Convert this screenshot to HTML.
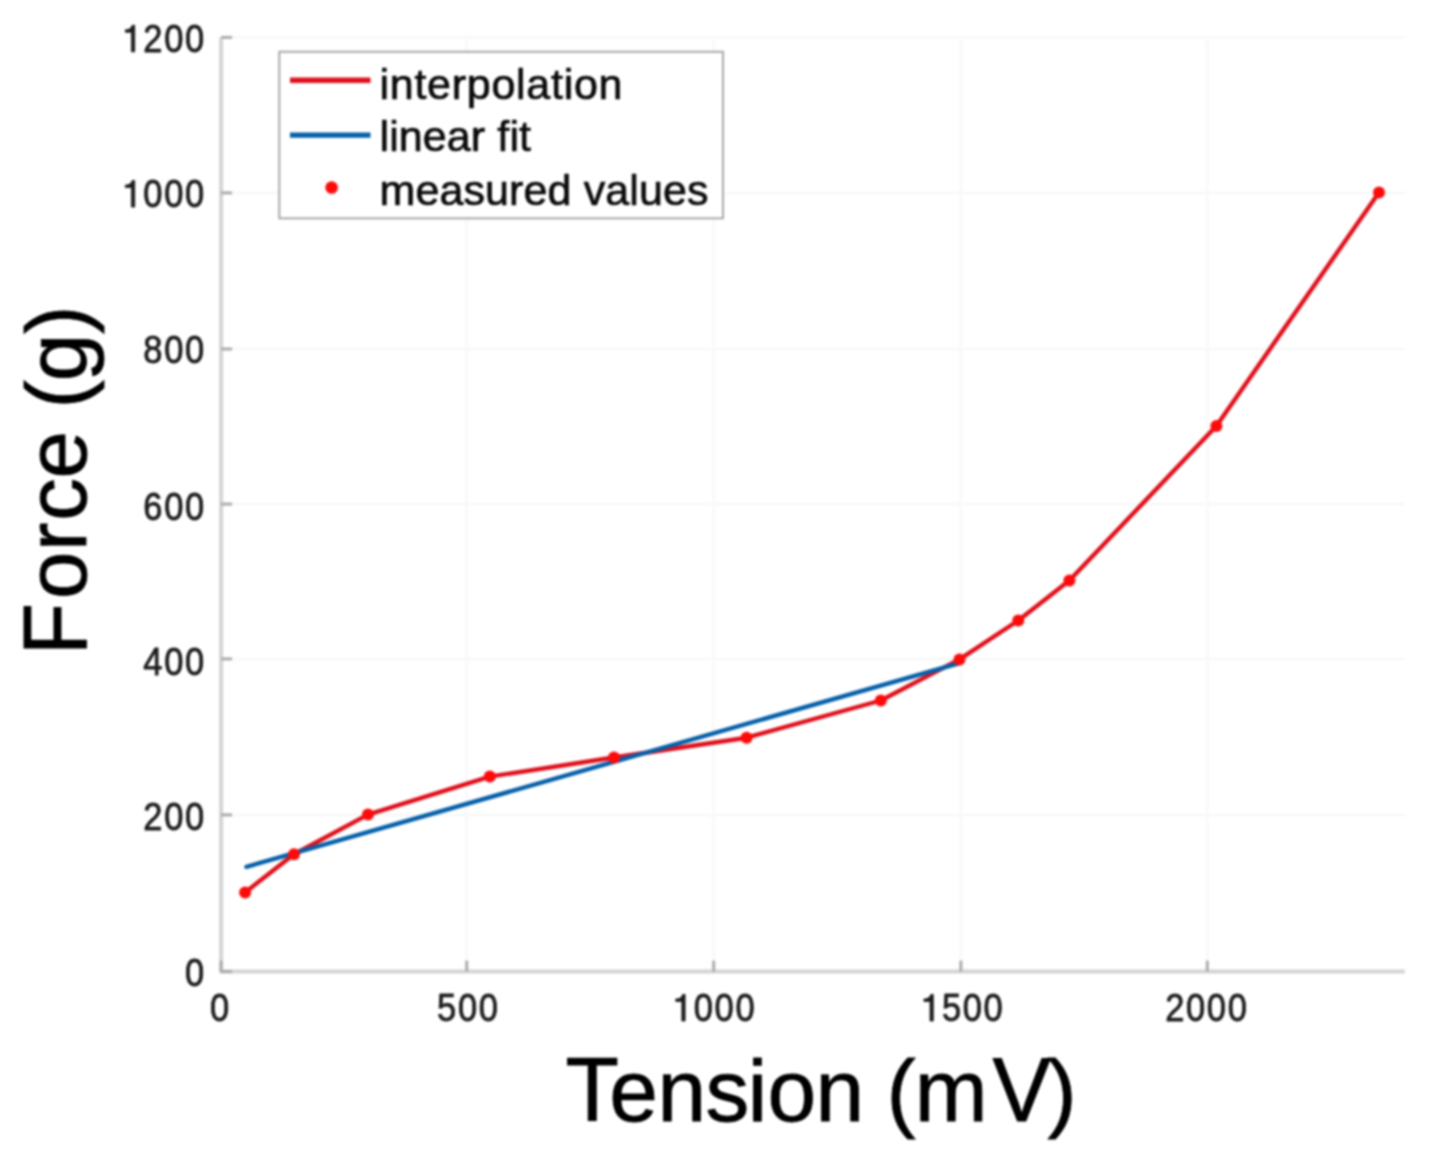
<!DOCTYPE html>
<html><head><meta charset="utf-8"><style>
html,body{margin:0;padding:0;background:#fff;}
body{width:1430px;height:1157px;overflow:hidden;}
svg{display:block;filter:blur(1.2px);}
text{font-family:"Liberation Sans",sans-serif;}
</style></head><body>
<svg width="1430" height="1157" viewBox="0 0 1430 1157">
<rect width="1430" height="1157" fill="#fff"/>
<g>
<g stroke="#f9f9f9" stroke-width="3">
<line x1="466.7" y1="37.4" x2="466.7" y2="971.6"/>
<line x1="713.7" y1="37.4" x2="713.7" y2="971.6"/>
<line x1="960.9" y1="37.4" x2="960.9" y2="971.6"/>
<line x1="1207.3" y1="37.4" x2="1207.3" y2="971.6"/>
<line x1="221.1" y1="814.9" x2="1404.8" y2="814.9"/>
<line x1="221.1" y1="658.9" x2="1404.8" y2="658.9"/>
<line x1="221.1" y1="504.1" x2="1404.8" y2="504.1"/>
<line x1="221.1" y1="349.0" x2="1404.8" y2="349.0"/>
<line x1="221.1" y1="192.9" x2="1404.8" y2="192.9"/>
<line x1="221.1" y1="37.4" x2="1404.8" y2="37.4"/>
</g>
<line x1="221.1" y1="37.4" x2="221.1" y2="973.1" stroke="#d4d4d4" stroke-width="4"/>
<line x1="219.6" y1="971.6" x2="1404.8" y2="971.6" stroke="#d4d4d4" stroke-width="4"/>
<g stroke="#acacac" stroke-width="3">
<line x1="221.1" y1="971.6" x2="221.1" y2="960.6"/>
<line x1="466.7" y1="971.6" x2="466.7" y2="960.6"/>
<line x1="713.7" y1="971.6" x2="713.7" y2="960.6"/>
<line x1="960.9" y1="971.6" x2="960.9" y2="960.6"/>
<line x1="1207.3" y1="971.6" x2="1207.3" y2="960.6"/>
<line x1="221.1" y1="971.6" x2="232.1" y2="971.6"/>
<line x1="221.1" y1="814.9" x2="232.1" y2="814.9"/>
<line x1="221.1" y1="658.9" x2="232.1" y2="658.9"/>
<line x1="221.1" y1="504.1" x2="232.1" y2="504.1"/>
<line x1="221.1" y1="349.0" x2="232.1" y2="349.0"/>
<line x1="221.1" y1="192.9" x2="232.1" y2="192.9"/>
<line x1="221.1" y1="37.4" x2="232.1" y2="37.4"/>
</g>
<g font-size="37.5" fill="#1c1c1c" stroke="#1c1c1c" stroke-width="0.8">
<text text-anchor="middle" transform="translate(219.70,1021.00) scale(0.92,1.035)">0</text>
<text text-anchor="middle" transform="translate(446.65,1021.00) scale(0.92,1.035)">5</text>
<text text-anchor="middle" transform="translate(467.50,1021.00) scale(0.92,1.035)">0</text>
<text text-anchor="middle" transform="translate(488.35,1021.00) scale(0.92,1.035)">0</text>
<path d="M681.83,1021.00L685.12,1021.00L685.12,994.41L682.50,994.41C681.83,997.00 680.06,998.80 675.75,998.95L675.75,1001.42L681.83,1001.42Z"/>
<text text-anchor="middle" transform="translate(703.27,1021.00) scale(0.92,1.035)">0</text>
<text text-anchor="middle" transform="translate(724.12,1021.00) scale(0.92,1.035)">0</text>
<text text-anchor="middle" transform="translate(744.97,1021.00) scale(0.92,1.035)">0</text>
<path d="M930.02,1021.00L933.32,1021.00L933.32,994.41L930.70,994.41C930.02,997.00 928.26,998.80 923.95,998.95L923.95,1001.42L930.02,1001.42Z"/>
<text text-anchor="middle" transform="translate(951.47,1021.00) scale(0.92,1.035)">5</text>
<text text-anchor="middle" transform="translate(972.32,1021.00) scale(0.92,1.035)">0</text>
<text text-anchor="middle" transform="translate(993.17,1021.00) scale(0.92,1.035)">0</text>
<text text-anchor="middle" transform="translate(1174.72,1021.00) scale(0.92,1.035)">2</text>
<text text-anchor="middle" transform="translate(1195.57,1021.00) scale(0.92,1.035)">0</text>
<text text-anchor="middle" transform="translate(1216.42,1021.00) scale(0.92,1.035)">0</text>
<text text-anchor="middle" transform="translate(1237.27,1021.00) scale(0.92,1.035)">0</text>
<text text-anchor="middle" transform="translate(194.58,985.90) scale(0.92,1.035)">0</text>
<text text-anchor="middle" transform="translate(152.88,829.90) scale(0.92,1.035)">2</text>
<text text-anchor="middle" transform="translate(173.72,829.90) scale(0.92,1.035)">0</text>
<text text-anchor="middle" transform="translate(194.57,829.90) scale(0.92,1.035)">0</text>
<text text-anchor="middle" transform="translate(152.88,674.60) scale(0.92,1.035)">4</text>
<text text-anchor="middle" transform="translate(173.72,674.60) scale(0.92,1.035)">0</text>
<text text-anchor="middle" transform="translate(194.57,674.60) scale(0.92,1.035)">0</text>
<text text-anchor="middle" transform="translate(152.88,519.60) scale(0.92,1.035)">6</text>
<text text-anchor="middle" transform="translate(173.72,519.60) scale(0.92,1.035)">0</text>
<text text-anchor="middle" transform="translate(194.57,519.60) scale(0.92,1.035)">0</text>
<text text-anchor="middle" transform="translate(152.88,362.50) scale(0.92,1.035)">8</text>
<text text-anchor="middle" transform="translate(173.72,362.50) scale(0.92,1.035)">0</text>
<text text-anchor="middle" transform="translate(194.57,362.50) scale(0.92,1.035)">0</text>
<path d="M131.42,207.10L134.72,207.10L134.72,180.51L132.10,180.51C131.42,183.10 129.66,184.90 125.35,185.05L125.35,187.53L131.42,187.53Z"/>
<text text-anchor="middle" transform="translate(152.88,207.10) scale(0.92,1.035)">0</text>
<text text-anchor="middle" transform="translate(173.73,207.10) scale(0.92,1.035)">0</text>
<text text-anchor="middle" transform="translate(194.58,207.10) scale(0.92,1.035)">0</text>
<path d="M131.42,51.85L134.72,51.85L134.72,25.26L132.10,25.26C131.42,27.85 129.66,29.65 125.35,29.80L125.35,32.28L131.42,32.28Z"/>
<text text-anchor="middle" transform="translate(152.88,51.85) scale(0.92,1.035)">2</text>
<text text-anchor="middle" transform="translate(173.73,51.85) scale(0.92,1.035)">0</text>
<text text-anchor="middle" transform="translate(194.58,51.85) scale(0.92,1.035)">0</text>
</g>
<polyline points="245.1,892.4 294.0,854.2 368.0,814.6 489.8,776.6 614.0,757.5 746.6,737.7 880.8,700.5 959.5,659.4 1018.3,620.5 1069.4,580.5 1216.4,425.9 1379.0,192.5" fill="none" stroke="#e0101c" stroke-width="4.4" stroke-linejoin="round" stroke-linecap="round"/>
<line x1="246.4" y1="866.8" x2="959.5" y2="663.1" stroke="#0660aa" stroke-width="4.4" stroke-linecap="round"/>
<g fill="#ff0a0a">
<circle cx="245.1" cy="892.4" r="6"/>
<circle cx="294.0" cy="854.2" r="6"/>
<circle cx="368.0" cy="814.6" r="6"/>
<circle cx="489.8" cy="776.6" r="6"/>
<circle cx="614.0" cy="757.5" r="6"/>
<circle cx="746.6" cy="737.7" r="6"/>
<circle cx="880.8" cy="700.5" r="6"/>
<circle cx="959.5" cy="659.4" r="6"/>
<circle cx="1018.3" cy="620.5" r="6"/>
<circle cx="1069.4" cy="580.5" r="6"/>
<circle cx="1216.4" cy="425.9" r="6"/>
<circle cx="1379.0" cy="192.5" r="6"/>
</g>
<g font-size="85.3" fill="#000" stroke="#000" stroke-width="0.8" transform="translate(86.2,479) rotate(-90)">
<text x="-119.90 -71.96 -41.80 0.60 47.50 70.50 97.80 145.10" y="0">orce (g)</text>
<text x="-176.00" y="0" transform="scale(1,1.06)">F</text>
</g>
<g font-size="87.5" fill="#000" stroke="#000" stroke-width="0.8">
<text x="609.20 657.40 705.50 747.80 767.50 815.50 863.86 886.40 914.80" y="1121.2">ension (m</text>
<text x="1047.50" y="1121.2">)</text>
<text transform="translate(0,1121.2) scale(1,1.04)" x="565.60" y="0">T</text>
<text transform="translate(0,1121.2) scale(1,1.04)" x="992.40" y="0">V</text>
</g>
<rect x="279.3" y="51.8" width="443.7" height="166.5" fill="#fff" stroke="#a8a8a8" stroke-width="2"/>
<line x1="290" y1="80.3" x2="370.5" y2="80.3" stroke="#e0101c" stroke-width="5.4"/>
<line x1="290" y1="135.1" x2="370.5" y2="135.1" stroke="#0660aa" stroke-width="5.4"/>
<circle cx="331.6" cy="187.5" r="6.3" fill="#ff0a0a"/>
<g font-size="43" fill="#0a0a0a" stroke="#0a0a0a" stroke-width="0.7">
<text x="379.5" y="98.5" textLength="243" lengthAdjust="spacing">interpolation</text>
<text x="379.5" y="150.7" textLength="151.5" lengthAdjust="spacing">linear fit</text>
<text x="379.5" y="204.7" textLength="329" lengthAdjust="spacing">measured values</text>
</g>
</g>
</svg>
</body></html>
